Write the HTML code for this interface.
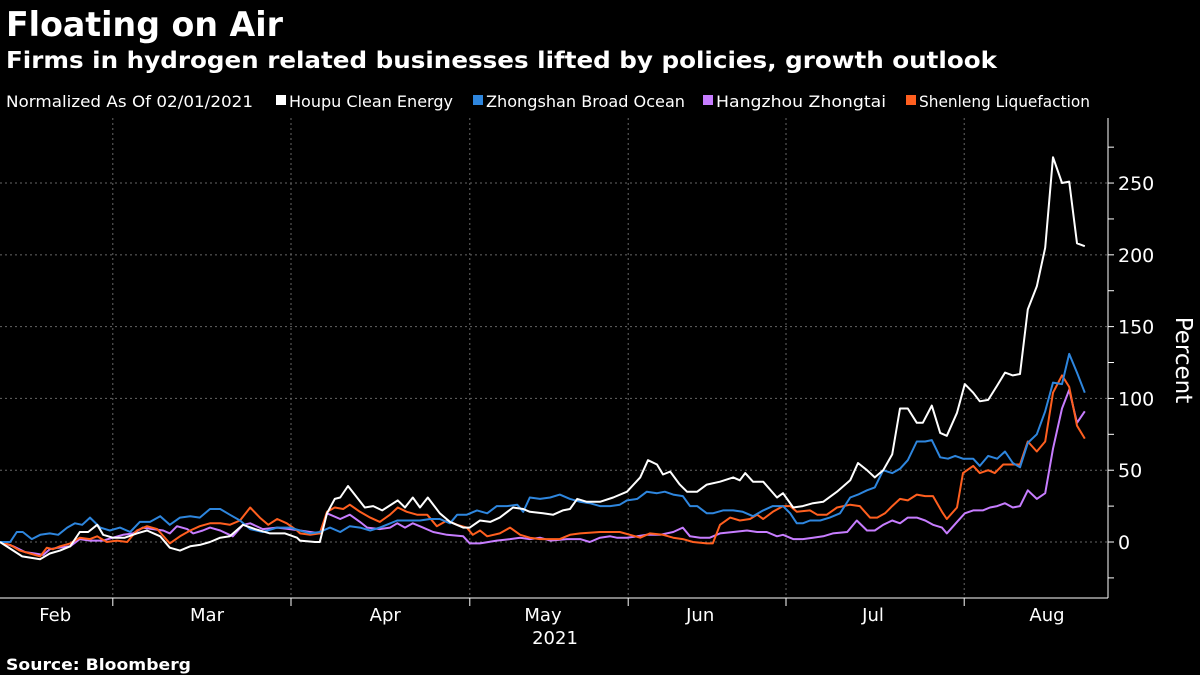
<!DOCTYPE html>
<html><head><meta charset="utf-8">
<style>
body{margin:0;background:#000;width:1200px;height:675px;overflow:hidden;font-family:"DejaVu Sans","Liberation Sans",sans-serif;color:#fff}
svg{position:absolute;left:0;top:0;font-family:"DejaVu Sans","Liberation Sans",sans-serif}
</style></head>
<body>
<svg id="chart" width="1200" height="675">
<text x="6" y="36" font-size="34" font-weight="bold" fill="#fff" textLength="277" lengthAdjust="spacingAndGlyphs">Floating on Air</text>
<text x="6" y="68" font-size="23" font-weight="bold" fill="#fff" textLength="991" lengthAdjust="spacingAndGlyphs">Firms in hydrogen related businesses lifted by policies, growth outlook</text>
<g id="legend"></g>
<g id="grid"></g>
<g id="axes"></g>
<g id="series"></g>
<text x="6" y="670" font-size="16" font-weight="bold" fill="#fff" textLength="185" lengthAdjust="spacingAndGlyphs">Source: Bloomberg</text>
</svg>
<script>
const seriesNames=["Houpu Clean Energy","Zhongshan Broad Ocean","Hangzhou Zhongtai","Shenleng Liquefaction"];
const seriesColors=["#ffffff","#2e86de","#c77dff","#ff5f1f"];
const yTicks=[0,50,100,150,200,250];
const monthLabels=["Feb","Mar","Apr","May","Jun","Jul","Aug"];
const monthBounds=[18.8,48.5,78.3,104.7,131,160.7];
const monthCenters=[9.2,34.5,64.2,90.5,116.7,145.5,174.5];
const houpu=[[0,0],[3.7,-10],[6.7,-12],[8.3,-8],[10,-6],[11.7,-3],[13.3,7],[14.7,7],[16.2,12],[17.2,5],[18.8,3],[20.8,3],[22.8,6],[24.5,8],[26.7,4],[28.3,-4],[30,-6],[31.7,-3],[33.3,-2],[35,0],[36.7,3],[38.3,4],[40.5,12],[42.5,9],[45,6],[47.5,6],[49.5,3],[50,1],[52.5,0],[53.3,0],[54.5,20],[55.8,30],[56.7,31],[58,39],[59.5,31],[60.8,24],[62.2,25],[63.7,22],[66.3,29],[67.5,24],[68.8,31],[70,24],[71.3,31],[73.3,20],[75,14],[77.2,10],[78.3,10],[80,15],[81.7,14],[83.3,17],[85.5,24],[87.2,23],[88.3,21],[90.5,20],[92.2,19],[93.8,22],[95,23],[96.2,30],[97.8,28],[100,28],[102.2,31],[104.5,35],[106.7,45],[108,57],[109.5,54],[110.5,47],[111.7,49],[113.3,40],[114.5,35],[116.2,35],[117.8,40],[120,42],[122.2,45],[123.3,43],[124.2,48],[125.5,42],[127.2,42],[129.5,31],[130.5,34],[132.2,24],[133.8,25],[135.5,27],[137.2,28],[139.5,35],[141.7,43],[143,55],[144.5,50],[145.8,45],[147.2,50],[148.7,61],[150,93],[151.3,93],[152.8,83],[153.8,83],[155.3,95],[156.7,76],[157.8,74],[159.5,90],[160.8,110],[162.2,104],[163.3,98],[164.7,99],[166.2,109],[167.5,118],[168.8,116],[170,117],[171.3,162],[172.8,178],[174.2,205],[175.5,268],[177,250],[178.2,251],[179.5,208],[180.8,206]];
const broadOcean=[[0,0],[1.7,0],[2.8,7],[3.8,7],[5.3,2],[6.7,5],[8.3,6],[9.7,5],[11.2,10],[12.5,13],[13.7,12],[15,17],[16.7,10],[18.3,8],[20,10],[21.7,7],[23.3,14],[25,14],[26.7,18],[28.3,12],[30,17],[31.7,18],[33.3,17],[35,23],[36.7,23],[38.3,19],[40,15],[41.7,9],[43.8,7],[46.2,10],[48.3,10],[50,8],[51.7,6],[53.3,7],[55,10],[56.7,7],[58.3,11],[60,10],[61.7,8],[63.3,10],[66.2,15],[68.3,15],[70,15],[71.7,16],[73.3,16],[75,13],[76.2,19],[77.8,19],[79.5,22],[81.2,20],[82.8,25],[84.5,25],[86.2,26],[87.2,21],[88.3,31],[90,30],[91.7,31],[93.3,33],[95,30],[96.7,28],[98.3,27],[100,25],[101.7,25],[103.3,26],[104.5,29],[106.2,30],[107.8,35],[109.5,34],[110.8,35],[112.2,33],[113.8,32],[115,25],[116.2,25],[117.8,20],[118.8,20],[120.5,22],[122.2,22],[123.8,21],[125.5,18],[127.2,22],[128.8,25],[130.5,25],[131.7,20],[132.8,13],[133.8,13],[135,15],[136.7,15],[138.3,17],[140,20],[141.7,31],[143,33],[144.5,36],[145.8,38],[147.2,50],[148.7,48],[150,51],[151.3,57],[152.8,70],[154.2,70],[155.3,71],[156.7,59],[158,58],[159.2,60],[160.5,58],[162.2,58],[163.3,53],[164.7,60],[166.2,58],[167.5,63],[168.8,55],[170,52],[171.3,69],[172.8,75],[174.2,91],[175.5,111],[177,110],[178.2,131],[179.5,118],[180.8,104]];
const zhongtai=[[0,0],[2.2,-3],[4.2,-7],[5.8,-8],[7.2,-9],[8.3,-5],[9.7,-4],[11.7,-3],[13.3,2],[15,1],[17.2,1],[18.8,3],[20.5,5],[22.2,6],[23.8,10],[25.5,9],[27.2,8],[28.3,6],[29.5,11],[31.2,9],[32.2,6],[33.8,8],[35,10],[36.7,8],[38.8,4],[40.5,12],[41.7,13],[43.8,9],[46.2,10],[48.3,9],[50,8],[53.3,6],[54.5,20],[56.7,16],[58.3,19],[60,14],[61.2,10],[63.3,9],[65,10],[66.2,13],[67.5,10],[68.8,13],[70.5,10],[72.2,7],[74.5,5],[77.2,4],[78.3,-1],[80,-1],[82.8,1],[85,2],[86.7,3],[88.3,2],[90,3],[91.7,1],[94.5,2],[96.7,2],[98.3,0],[100,3],[101.7,4],[102.8,3],[104.5,3],[106.2,4],[107.8,5],[110,5],[112.2,7],[113.8,10],[115,4],[116.7,3],[118.3,3],[120,6],[122.2,7],[124.5,8],[126.2,7],[127.8,7],[129.5,4],[130.5,5],[132.2,2],[133.8,2],[135.5,3],[137.2,4],[138.8,6],[141.2,7],[142.8,15],[144.5,8],[145.8,8],[147.2,12],[148.7,15],[150,13],[151.3,17],[152.8,17],[154.2,15],[155.5,12],[157,10],[157.8,6],[159.5,14],[160.8,20],[162.2,22],[163.8,22],[165,24],[166.2,25],[167.5,27],[168.8,24],[170,25],[171.3,36],[172.8,30],[174.2,34],[175.5,65],[177,93],[178.2,106],[179.5,83],[180.8,91]];
const shenleng=[[0,0],[1.7,-2],[3.3,-6],[5,-8],[6.7,-10],[7.8,-4],[8.8,-5],[10,-3],[11.7,-1],[13.3,3],[15,2],[16.2,4],[17.8,0],[19.5,1],[21.2,0],[22.8,8],[24.5,11],[26.2,9],[28.3,-1],[30,4],[31.7,8],[33.3,11],[35,13],[36.7,13],[38.3,12],[40,15],[41.7,24],[43.3,17],[44.7,12],[46.2,16],[47.8,13],[49.5,8],[50,6],[51.7,5],[53.3,6],[54.5,21],[55.8,24],[57.2,23],[58.3,26],[60,21],[61.7,17],[63.3,14],[65,19],[66.3,24],[67.8,21],[69.5,19],[71.2,19],[72.8,11],[74.5,15],[76.2,12],[77.8,10],[78.8,5],[80,8],[81.2,4],[83.3,6],[85,10],[86.7,5],[88.3,3],[90,2],[91.7,2],[93.3,2],[95,5],[96.7,6],[100,7],[103.3,7],[105,5],[106.7,3],[108.3,6],[110.5,5],[112.2,3],[113.8,2],[115.5,0],[117.8,-1],[118.8,-1],[120,12],[121.7,17],[123.3,15],[125,16],[126.2,19],[127.2,16],[128.8,21],[130.5,25],[131.7,25],[132.8,21],[135,22],[136.2,19],[137.8,19],[139.5,24],[141.7,26],[143.3,25],[145,17],[146.2,17],[147.5,20],[148.7,25],[150,30],[151.3,29],[152.8,33],[154.2,32],[155.5,32],[157,21],[157.8,16],[159.5,24],[160.5,48],[162.2,53],[163.3,48],[164.7,50],[165.8,48],[167.2,54],[168.8,54],[170,54],[171.3,70],[172.8,63],[174.2,70],[175.5,104],[177,116],[178.2,108],[179.5,81],[180.8,72]];

const NS="http://www.w3.org/2000/svg";
const plotL=0,plotR=1108,plotT=118,plotB=598;
const xMin=0,xMax=181;
const yMin=-39,yMax=295.3;
function xs(d){return plotL+(d-xMin)/(xMax-xMin)*1086;}
function ys(v){return plotB-(v-yMin)/(yMax-yMin)*(plotB-plotT);}
function mk(tag,attrs,parent){const e=document.createElementNS(NS,tag);for(const k in attrs)e.setAttribute(k,attrs[k]);parent.appendChild(e);return e;}

const grid=document.getElementById('grid');
yTicks.forEach(t=>{
  const l=mk('line',{x1:plotL,x2:plotR,y1:ys(t),y2:ys(t),stroke:'#666','stroke-width':1,'stroke-dasharray':'2,3'},grid);
  
  
});
monthBounds.forEach(m=>{
  const l=mk('line',{x1:xs(m),x2:xs(m),y1:plotT,y2:plotB,stroke:'#666','stroke-width':1,'stroke-dasharray':'2,3'},grid);
  
  
});

const axes=document.getElementById('axes');
let a=mk('line',{x1:plotR,x2:plotR,y1:plotT,y2:plotB,stroke:'#fff','stroke-width':1},axes);


a=mk('line',{x1:0,x2:plotR,y1:plotB,y2:plotB,stroke:'#fff','stroke-width':1},axes);


for(let v=-25;v<=275;v+=25){
  const tk=mk('line',{x1:plotR,x2:plotR+6,y1:ys(v),y2:ys(v),stroke:'#fff','stroke-width':1},axes);
  
  
}
yTicks.forEach(t=>{
  const tx=mk('text',{x:plotR+10,y:ys(t)+7,'font-size':19,fill:'#fff'},axes);
  tx.textContent=t;
  
  
});
monthBounds.forEach(m=>{
  const tk=mk('line',{x1:xs(m),x2:xs(m),y1:plotB,y2:plotB+8,stroke:'#fff','stroke-width':1},axes);
  
  
});
monthLabels.forEach((m,i)=>{
  const tx=mk('text',{x:xs(monthCenters[i]),y:621,'font-size':18,fill:'#fff','text-anchor':'middle'},axes);
  tx.textContent=m;
  
  
});
let yr=mk('text',{x:555,y:644,'font-size':18,fill:'#fff','text-anchor':'middle'},axes);
yr.textContent='2021';


let yt=mk('text',{x:1176,y:360,'font-size':23,fill:'#fff','text-anchor':'middle',transform:'rotate(90 1176 360)'},axes);
yt.textContent='Percent';



const legend=document.getElementById('legend');
let lt=mk('text',{x:6,y:107,'font-size':16,fill:'#fff',textLength:247,lengthAdjust:'spacingAndGlyphs'},legend);
lt.textContent='Normalized As Of 02/01/2021';


const legX=[276,473,703,906];
const legW=[164,199,170,171];
seriesNames.forEach((n,i)=>{
  const sw=mk('rect',{x:legX[i],y:95,width:10,height:10,fill:seriesColors[i]},legend);
  
  
  const t=mk('text',{x:legX[i]+13,y:107,'font-size':16,fill:'#fff',textLength:legW[i],lengthAdjust:'spacingAndGlyphs'},legend);
  t.textContent=n;
  
  
});

const sg=document.getElementById('series');
const allSeries=[zhongtai,shenleng,broadOcean,houpu];
const drawColors=[seriesColors[2],seriesColors[3],seriesColors[1],seriesColors[0]];
const lineNames=['line-hangzhou-zhongtai','line-shenleng-liquefaction','line-zhongshan-broad-ocean','line-houpu-clean-energy'];
allSeries.forEach((s,i)=>{
  const p=mk('polyline',{points:s.map(d=>xs(d[0]).toFixed(1)+','+ys(d[1]).toFixed(1)).join(' '),fill:'none',stroke:drawColors[i],'stroke-width':2,'stroke-linejoin':'round'},sg);
  
  
});
</script>
</body></html>
